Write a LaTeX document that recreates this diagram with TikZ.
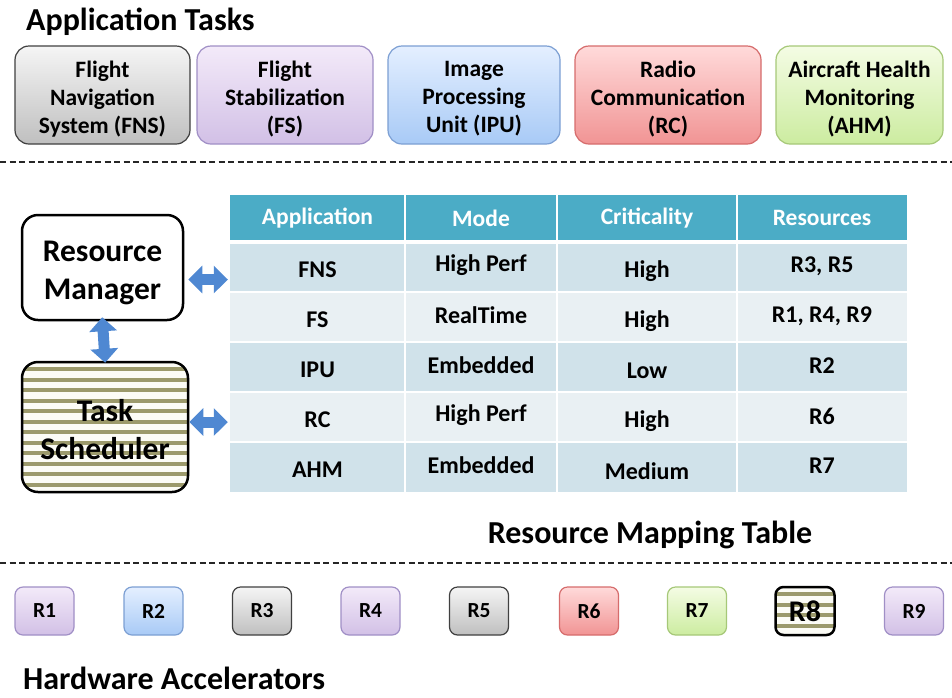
\documentclass[tikz,border=0pt]{standalone}
\usepackage{fontspec}
\setmainfont{Carlito}
\usepackage{xcolor}
\usepackage{tikz}
\usetikzlibrary{arrows.meta}
\usetikzlibrary{calc}
\definecolor{headcolor}{HTML}{4BACC6}
\definecolor{rowdark}{HTML}{D0E2EA}
\definecolor{rowlight}{HTML}{E9F0F3}
\definecolor{arrowcolor}{HTML}{4F88D2}
\definecolor{stripecolor}{HTML}{9C9A6C}
\definecolor{grayline}{HTML}{404040}
\definecolor{purpleline}{HTML}{A08FC6}
\definecolor{blueline}{HTML}{7C9FD3}
\definecolor{redline}{HTML}{D66C6C}
\definecolor{greenline}{HTML}{A6C878}

\tikzset{
  taskbox/.style={draw, rounded corners=14pt, line width=1.2pt, minimum height=98pt, inner sep=0pt},
  tasktext/.style={align=center, inner sep=0pt, font=\fontsize{23.5}{28}\selectfont\bfseries},
  rbox/.style={draw, rounded corners=8pt, line width=1.2pt, minimum width=59pt,
    minimum height=48pt, inner sep=0pt, font=\fontsize{21.5}{26}\selectfont\bfseries},
  grayfill/.style={top color=gray!8, bottom color=gray!50, draw=grayline},
  purplefill/.style={top color={rgb,255:red,243;green,234;blue,249}, bottom color={rgb,255:red,210;green,192;blue,230}, draw=purpleline},
  bluefill/.style={top color={rgb,255:red,228;green,239;blue,255}, bottom color={rgb,255:red,168;green,202;blue,246}, draw=blueline},
  redfill/.style={top color={rgb,255:red,255;green,218;blue,218}, bottom color={rgb,255:red,241;green,148;blue,148}, draw=redline},
  greenfill/.style={top color={rgb,255:red,244;green,252;blue,228}, bottom color={rgb,255:red,204;green,236;blue,160}, draw=greenline},
  ctrlbox/.style={draw, line width=2.5pt, rounded corners=16pt, inner sep=0pt},
  ctrltext/.style={align=center, inner sep=0pt, font=\fontsize{31.5}{38}\selectfont\bfseries},
  stripes/.style={fill={rgb,255:red,252;green,252;blue,246}, path picture={
    \foreach \k in {0,...,#1}
      \fill[stripecolor, sharp corners] ($(path picture bounding box.north west)+(0,5+\k*10.5)$) rectangle ++(300,4);}},
  dblarrow/.style={arrowcolor, line width=11pt,
    {Triangle[width=27pt,length=14pt]}-{Triangle[width=27pt,length=14pt]}},
  divider/.style={black!85, line width=1.8pt, dash pattern=on 6pt off 3.5pt},
  heading/.style={inner sep=0pt, font=\fontsize{32}{38}\selectfont\bfseries},
  rowfill/.style={minimum width=677pt, minimum height=50pt, inner sep=0pt},
  headtext/.style={white, inner sep=0pt, font=\fontsize{23.5}{28}\selectfont\bfseries},
  celltext/.style={inner sep=0pt, font=\fontsize{24}{28}\selectfont\bfseries}
}

\begin{document}
\begin{tikzpicture}[x=1pt,y=-1pt]
\useasboundingbox (0,0) rectangle (952,697);
\fill[white] (0,0) rectangle (952,697);
%% application tasks
\node[heading, anchor=base west] (apptitle) at (26,30) {Application Tasks};
\foreach \name/\xc/\w/\look/\txt in {fns/102.5/175/grayfill/{Flight\\Navigation\\System (FNS)},
    fs/285/176/purplefill/{Flight\\Stabilization\\(FS)}, ipu/474/172/bluefill/{Image\\Processing\\Unit (IPU)},
    rc/668/186/redfill/{Radio\\Communication\\(RC)}, ahm/859.5/167/greenfill/{Aircraft Health\\Monitoring\\(AHM)}}
{
    \node[taskbox, \look, minimum width=\w pt] (\name) at (\xc,95) {};
    \node[tasktext] (\name-text) at (\xc,99) {\txt};
}
\draw[divider] (0,162) -- (952,162);
%% manager and scheduler
\node[ctrlbox, fill=white, minimum width=161pt, minimum height=105pt] (rm) at (102.5,267.5) {};
\node[ctrltext] (rm-text) at (102.5,273) {Resource\\Manager};
\node[ctrlbox, stripes=11, minimum width=166pt, minimum height=130pt] (ts) at (105,427) {};
\node[ctrltext] (ts-text) at (105,430) {Task\\Scheduler};
%% mapping table
\fill[headcolor] (230,195) rectangle (907,242);
\foreach \r/\col in {1/rowdark, 2/rowlight, 3/rowdark, 4/rowlight, 5/rowdark}
    \node[rowfill, fill=\col] (row\r) at (568.5,217+50*\r) {};
\foreach \x in {405, 557, 737}
    \draw[white, line width=2pt] (\x,195) -- (\x,492);
\foreach \y in {292, 342, 392, 442}
    \draw[white, line width=2pt] (230,\y) -- (907,\y);
\draw[white, line width=4pt] (230,242) -- (907,242);
\foreach \c/\xc/\txt in {1/317.5/Application, 2/481/Mode, 3/647/Criticality, 4/822/Resources}
    \node[headtext] (head\c) at (\xc,218) {\txt};
\foreach \r/\app/\mode/\crit/\res in {1/FNS/High Perf/High/{R3, R5}, 2/FS/RealTime/High/{R1, R4, R9},
    3/IPU/Embedded/Low/R2, 4/RC/High Perf/High/R6, 5/AHM/Embedded/Medium/R7}
{
    \node[celltext] (app\r) at (317.5,220+50*\r) {\app};
    \node[celltext] (mode\r) at (481,215+50*\r) {\mode};
    \node[celltext] (crit\r) at (647,221+50*\r) {\crit};
    \node[celltext] (res\r) at (822,216+50*\r) {\res};
}
\node[heading, anchor=base] (maptitle) at (650,543) {Resource Mapping Table};
%% arrows
\draw[dblarrow, shorten <=-4pt, shorten >=-2pt] (rm.south) -- (ts.north);
\draw[dblarrow, shorten <=4pt, shorten >=2pt] ([yshift=-12pt]rm.east) -- ([yshift=-12pt]rm.east -| row1.west);
\draw[dblarrow, shorten >=2pt] ([yshift=5pt]ts.east) -- ([yshift=5pt]ts.east -| row4.west);
\draw[divider] (0,563) -- (952,563);
%% hardware accelerators
\foreach \i/\xc/\look in {1/44.5/purplefill, 2/153.5/bluefill, 3/262/grayfill, 4/370.5/purplefill,
    5/479/grayfill, 6/589/redfill, 7/697/greenfill, 9/914/purplefill}
    \node[rbox, \look] (r\i) at (\xc,611) {R\i};
\node[rbox, stripes=3, draw=black, line width=2.5pt, font=\fontsize{30}{34}\selectfont\bfseries] (r8) at (805,611) {R8};
\node[heading, anchor=base west] (hwtitle) at (23,689) {Hardware Accelerators};
\end{tikzpicture}
\end{document}
